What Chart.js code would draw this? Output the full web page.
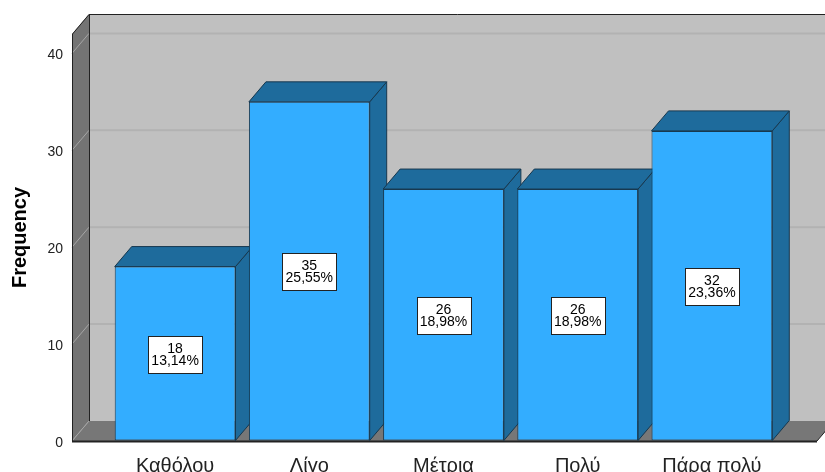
<!DOCTYPE html>
<html>
<head>
<meta charset="utf-8">
<script src="https://cdn.jsdelivr.net/npm/chart.js@4.4.1/dist/chart.umd.min.js"></script>
<style>
    html, body { margin: 0; padding: 0; background: #fff; overflow: hidden; }
    #grafico { display: block; }
</style>
</head>
<body>
<canvas id="grafico" width="825" height="472"></canvas>
<script>
const categories = ['Καθόλου', 'Λίγο', 'Μέτρια', 'Πολύ', 'Πάρα πολύ'];
const frequency = [18, 35, 26, 26, 32];
const yTicks = [0, 10, 20, 30, 40];

const total = frequency.reduce((a, b) => a + b, 0);
const dx = 17, dy = 20;

// 3d box: walls, floor and the side/top of every bar
const box3d = {
    id: 'box3d',
    beforeDatasetsDraw(chart) {
        const ctx = chart.ctx;
        const y = chart.scales.y;
        const area = chart.chartArea;
        const L = 72, R = 817;
        const top = area.top, bot = area.bottom;

        ctx.save();
        // back wall
        ctx.fillStyle = '#c0c0c0';
        ctx.fillRect(L + dx, top - dy, R - L + 30, bot - top);
        // back grid
        ctx.strokeStyle = '#b2b2b2';
        ctx.lineWidth = 2;
        yTicks.slice(1).forEach(v => {
            const py = y.getPixelForValue(v) - dy;
            ctx.beginPath();
            ctx.moveTo(L + dx, py);
            ctx.lineTo(R + dx + 20, py);
            ctx.stroke();
        });
        // left wall
        ctx.fillStyle = '#747474';
        ctx.beginPath();
        ctx.moveTo(L, top); ctx.lineTo(L + dx, top - dy);
        ctx.lineTo(L + dx, bot - dy); ctx.lineTo(L, bot);
        ctx.closePath(); ctx.fill();
        // floor
        ctx.fillStyle = '#777777';
        ctx.beginPath();
        ctx.moveTo(L, bot); ctx.lineTo(L + dx, bot - dy);
        ctx.lineTo(R + dx, bot - dy); ctx.lineTo(R, bot);
        ctx.closePath(); ctx.fill();
        // diagonals on the left wall
        ctx.strokeStyle = '#a6a6a6';
        ctx.lineWidth = 1;
        yTicks.forEach(v => {
            const py = y.getPixelForValue(v);
            ctx.beginPath();
            ctx.moveTo(L, py);
            ctx.lineTo(L + dx, py - dy);
            ctx.stroke();
        });
        // edges
        ctx.strokeStyle = '#222';
        ctx.lineWidth = 1;
        ctx.beginPath();
        ctx.moveTo(L + 0.5, bot); ctx.lineTo(L + 0.5, top); ctx.lineTo(L + dx, top - dy + 0.5);
        ctx.lineTo(R + dx + 20, top - dy + 0.5);
        ctx.moveTo(L + dx + 0.5, top - dy); ctx.lineTo(L + dx + 0.5, bot - dy);
        ctx.moveTo(R, bot); ctx.lineTo(R + dx, bot - dy);
        ctx.stroke();
        ctx.lineWidth = 2;
        ctx.beginPath();
        ctx.moveTo(L, bot + 0.5); ctx.lineTo(R, bot + 0.5);
        ctx.stroke();

        // bar sides and tops
        const bars = chart.getDatasetMeta(0).data;
        ctx.fillStyle = '#1e6b9c';
        ctx.strokeStyle = '#17384f';
        ctx.lineWidth = 1;
        bars.forEach(b => {
            const x1 = b.x - b.width / 2, x2 = b.x + b.width / 2;
            ctx.beginPath();
            ctx.moveTo(x2, b.base); ctx.lineTo(x2 + dx, b.base - dy);
            ctx.lineTo(x2 + dx, b.y - dy); ctx.lineTo(x2, b.y);
            ctx.closePath(); ctx.fill(); ctx.stroke();
            ctx.beginPath();
            ctx.moveTo(x1, b.y); ctx.lineTo(x1 + dx, b.y - dy);
            ctx.lineTo(x2 + dx, b.y - dy); ctx.lineTo(x2, b.y);
            ctx.closePath(); ctx.fill(); ctx.stroke();
        });
        ctx.restore();
    },
    afterDatasetsDraw(chart) {
        const ctx = chart.ctx;
        const bars = chart.getDatasetMeta(0).data;
        ctx.save();
        ctx.font = '14px "Liberation Sans", Arial, sans-serif';
        ctx.textAlign = 'center';
        ctx.textBaseline = 'middle';
        bars.forEach((b, i) => {
            const l1 = String(frequency[i]);
            const l2 = (frequency[i] / total * 100).toFixed(2).replace('.', ',') + '%';
            const w = Math.ceil(Math.max(ctx.measureText(l1).width, ctx.measureText(l2).width)) + 6;
            const h = 37;
            const cy = Math.round((b.y + b.base) / 2);
            const bx = Math.round(b.x - w / 2) + 0.5, by = Math.round(cy - h / 2) + 0.5;
            ctx.fillStyle = '#fff';
            ctx.fillRect(bx, by, w, h);
            ctx.strokeStyle = '#222';
            ctx.lineWidth = 1;
            ctx.strokeRect(bx, by, w, h);
            ctx.fillStyle = '#000';
            ctx.fillText(l1, b.x, cy - 5);
            ctx.fillText(l2, b.x, cy + 7);
        });
        ctx.restore();
    }
};

new Chart(document.getElementById('grafico'), {
    type: 'bar',
    data: {
        labels: categories,
        datasets: [{
            label: 'Frequency',
            data: frequency,
            backgroundColor: '#33adff',
            borderColor: '#17384f',
            borderWidth: 1,
            borderSkipped: false,
            categoryPercentage: 0.9,
            barPercentage: 1.0
        }]
    },
    options: {
        responsive: false,
        animation: false,
        layout: { padding: { top: 34, right: 46, bottom: 0, left: 0 } },
        plugins: {
            legend: { display: false },
            tooltip: { enabled: false }
        },
        scales: {
            x: {
                grid: { display: false },
                border: { display: false },
                ticks: {
                    color: '#222',
                    padding: 5,
                    font: { family: '"Liberation Sans", Arial', size: 20 }
                },
                afterFit(scale) { scale.height = 31; }
            },
            y: {
                min: 0,
                max: 42,
                grid: {
                    drawOnChartArea: false,
                    drawTicks: true,
                    tickLength: 42,
                    color: 'rgba(0,0,0,0)'
                },
                border: { display: false },
                afterBuildTicks(scale) {
                    scale.ticks = yTicks.map(v => ({ value: v }));
                },
                ticks: {
                    color: '#222',
                    padding: 3,
                    labelOffset: 2,
                    font: { family: '"Liberation Sans", Arial', size: 14 }
                },
                title: {
                    display: true,
                    text: 'Frequency',
                    color: '#000',
                    padding: { top: 8, bottom: 0 },
                    font: { family: '"Liberation Sans", Arial', size: 20, weight: 'bold' }
                },
                afterFit(scale) { scale.width = 108; }
            }
        }
    },
    plugins: [box3d]
});
</script>
</body>
</html>
